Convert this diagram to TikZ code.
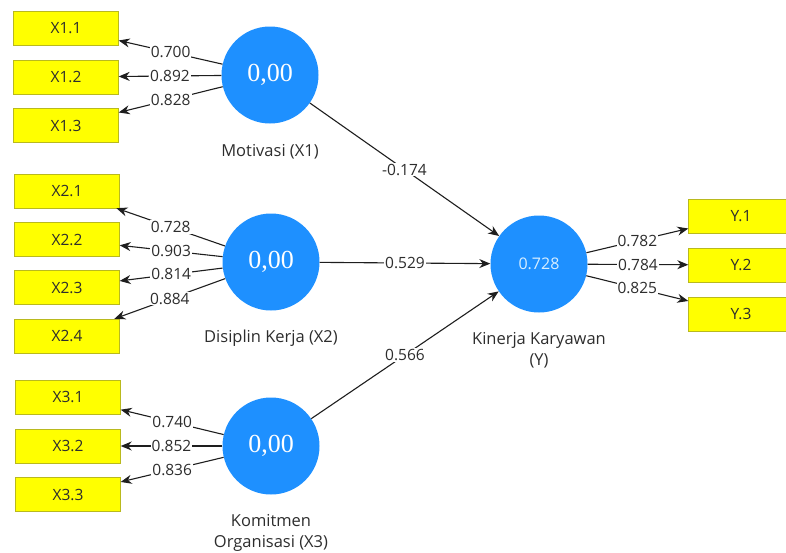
\documentclass[tikz,border=0pt]{standalone}
\usepackage{xcolor}
\usepackage{fontspec}
\setmainfont{Open Sans}
\newfontfamily\valuefont{Liberation Serif}
\usepackage{tikz}
\usetikzlibrary{arrows.meta, positioning}

\definecolor{plsblue}{RGB}{30,144,255}
\definecolor{plsyellow}{RGB}{255,255,0}
\definecolor{plsborder}{RGB}{185,185,30}
\definecolor{plstext}{RGB}{45,45,45}
\definecolor{plsline}{RGB}{30,30,30}

\begin{document}
\begin{tikzpicture}[
        x=1pt, y=-1pt,
        latent/.style={circle, minimum size=97pt, inner sep=0pt, fill=plsblue, text=white, font=\valuefont\fontsize{26}{26}\selectfont},
        indicator/.style={rectangle, minimum width=105pt, minimum height=34pt, inner sep=0pt, draw=plsborder, fill=plsyellow, text=plstext, font=\fontsize{15.5}{18}\selectfont},
        caption/.style={align=center, inner sep=0pt, text=plstext, font=\fontsize{16.5}{21}\selectfont},
        weight/.style={midway, fill=white, inner sep=1pt, text=plstext, font=\fontsize{15.5}{18}\selectfont},
        arrow/.style={draw=plsline, line width=1.1pt, -{Stealth[length=11pt,width=9pt]}}
    ]
    \useasboundingbox (0,0) rectangle (786,552);

    % latent variables
    \node (mot) [latent] at (270,75) {0,00};
    \node (dis) [latent] at (271,262) {0,00};
    \node (kom) [latent] at (271,446) {0,00};
    \node (kin) [latent, text={rgb,255:red,215;green,238;blue,255}, font=\fontsize{16}{18}\selectfont] at (539,264) {0.728};

    \node [caption, below=20pt of mot] {Motivasi (X1)};
    \node [caption, below=19pt of dis] {Disiplin Kerja (X2)};
    \node [caption, below=19pt of kom] {Komitmen\\Organisasi (X3)};
    \node [caption, below=19pt of kin] {Kinerja Karyawan\\(Y)};

    % indicators
    \node (x11) [indicator] at (66,28.5) {X1.1};
    \node (x12) [indicator] at (66,77) {X1.2};
    \node (x13) [indicator] at (66,125.5) {X1.3};

    \node (x21) [indicator] at (67,191) {X2.1};
    \node (x22) [indicator] at (67,239.5) {X2.2};
    \node (x23) [indicator] at (67,287.5) {X2.3};
    \node (x24) [indicator] at (67,336) {X2.4};

    \node (x31) [indicator] at (68,397) {X3.1};
    \node (x32) [indicator] at (68,446) {X3.2};
    \node (x33) [indicator] at (68,494.5) {X3.3};

    \node (y1) [indicator] at (741,216) {Y.1};
    \node (y2) [indicator] at (741,265) {Y.2};
    \node (y3) [indicator] at (741,314) {Y.3};

    % outer loadings
    \draw [arrow] (mot) -- (x11) node [weight] {0.700};
    \draw [arrow] (mot) -- (x12) node [weight] {0.892};
    \draw [arrow] (mot) -- (x13) node [weight] {0.828};

    \draw [arrow] (dis) -- (x21) node [weight] {0.728};
    \draw [arrow] (dis) -- (x22) node [weight] {0.903};
    \draw [arrow] (dis) -- (x23) node [weight] {0.814};
    \draw [arrow] (dis) -- (x24) node [weight] {0.884};

    \draw [arrow] (kom) -- (x31) node [weight] {0.740};
    \draw [arrow] (kom) -- (x32) node [weight] {0.852};
    \draw [arrow] (kom) -- (x33) node [weight] {0.836};

    \draw [arrow] (kin) -- (y1) node [weight] {0.782};
    \draw [arrow] (kin) -- (y2) node [weight] {0.784};
    \draw [arrow] (kin) -- (y3) node [weight] {0.825};

    % path coefficients
    \draw [arrow] (mot) -- (kin) node [weight] {-0.174};
    \draw [arrow] (dis) -- (kin) node [weight] {0.529};
    \draw [arrow] (kom) -- (kin) node [weight] {0.566};

\end{tikzpicture}
\end{document}
